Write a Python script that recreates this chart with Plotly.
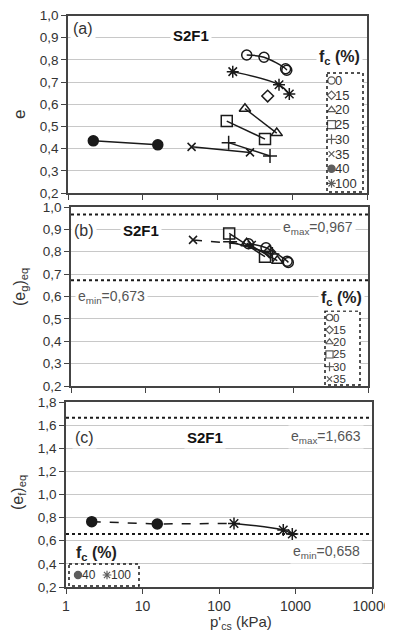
import plotly.graph_objects as go

# window is 393x639; the page body has an 8px margin, so the figure starts at (8, 8)
WIN_W, WIN_H = 393, 639
OFF = 8
FW, FH = WIN_W - OFF, WIN_H - OFF

# ---------------- data ----------------
fc_legend_a = [0, 15, 20, 25, 30, 35, 40, 100]
fc_legend_b = [0, 15, 20, 25, 30, 35]
fc_legend_c = [40, 100]

# Panel (a): e vs p'cs (kPa)
pa_fc0 = [246, 419, 815, 845]
ea_fc0 = [0.822, 0.812, 0.760, 0.753]
pa_fc15 = [469]
ea_fc15 = [0.637]
pa_fc20 = [233, 620]
ea_fc20 = [0.580, 0.470]
pa_fc25 = [133, 432]
ea_fc25 = [0.524, 0.443]
pa_fc30 = [141, 504]
ea_fc30 = [0.427, 0.367]
pa_fc35 = [45, 272]
ea_fc35 = [0.408, 0.383]
pa_fc40 = [2.18, 15.9]
ea_fc40 = [0.435, 0.417]
pa_fc100 = [160, 665, 913]
ea_fc100 = [0.747, 0.688, 0.646]

# Panel (b): (eg)eq vs p'cs
pb_fc0 = [246, 423, 815, 845]
eb_fc0 = [0.836, 0.818, 0.758, 0.752]
pb_fc15 = [469]
eb_fc15 = [0.800]
pb_fc20 = [232, 600]
eb_fc20 = [0.838, 0.760]
pb_fc25 = [135, 410]
eb_fc25 = [0.882, 0.778]
pb_fc30 = [139, 515]
eb_fc30 = [0.845, 0.790]
pb_fc35 = [44, 272]
eb_fc35 = [0.853, 0.830]
emax_b = 0.967
emin_b = 0.673

# Panel (c): (ef)eq vs p'cs
pc_fc40 = [2.17, 15.6]
ec_fc40 = [0.765, 0.745]
pc_fc100 = [157, 692, 908]
ec_fc100 = [0.750, 0.693, 0.658]
emax_c = 1.663
emin_c = 0.658

x_tickvals = [1, 10, 100, 1000, 10000]
x_ticktext = ["1", "10", "100", "1000", "10000"]

# ---------------- styles ----------------
INK = "#1a1a1a"
MK = {
    0: dict(symbol="circle-open", size=10),
    15: dict(symbol="diamond-open", size=9),
    20: dict(symbol="triangle-up-open", size=10),
    25: dict(symbol="square-open", size=11),
    30: dict(symbol="cross-thin-open", size=10),
    35: dict(symbol="x-thin-open", size=8),
    40: dict(symbol="circle", size=10),
    100: dict(symbol="asterisk-open", size=10),
}


def marker(fc, scale=1.0, width=1.5):
    m = MK[fc]
    return dict(symbol=m["symbol"], size=m["size"] * scale, color=INK,
                line=dict(color=INK, width=width))


FONT = "Liberation Sans, Arial, sans-serif"


def px_x(px):
    return (px - OFF) / FW


def px_y(py):
    return 1 - (py - OFF) / FH


fig = go.Figure()


def add_series(xs, ys, fc, ax, dash="solid", show_line=True):
    mode = "lines+markers" if (show_line and len(xs) > 1) else "markers"
    fig.add_trace(go.Scatter(
        x=xs, y=ys, mode=mode, xaxis=ax[0], yaxis=ax[1],
        marker=marker(fc), line=dict(color=INK, width=1.5, shape="spline", dash=dash),
        showlegend=False, hoverinfo="skip"))


AX_A = ("x", "y")
AX_B = ("x2", "y2")
AX_C = ("x3", "y3")

# panel (a)
add_series(pa_fc0, ea_fc0, 0, AX_A)
add_series(pa_fc15, ea_fc15, 15, AX_A)
add_series(pa_fc20, ea_fc20, 20, AX_A)
add_series(pa_fc25, ea_fc25, 25, AX_A)
add_series(pa_fc30, ea_fc30, 30, AX_A)
add_series(pa_fc35, ea_fc35, 35, AX_A)
add_series(pa_fc40, ea_fc40, 40, AX_A)
add_series(pa_fc100, ea_fc100, 100, AX_A)

# panel (b)
add_series(pb_fc35, eb_fc35, 35, AX_B, dash="dash")
add_series(pb_fc25, eb_fc25, 25, AX_B)
add_series(pb_fc30, eb_fc30, 30, AX_B)
add_series(pb_fc20, eb_fc20, 20, AX_B)
add_series(pb_fc15, eb_fc15, 15, AX_B)
add_series(pb_fc0, eb_fc0, 0, AX_B)

# panel (c)
fig.add_trace(go.Scatter(
    x=pc_fc40 + pc_fc100[:1], y=ec_fc40 + ec_fc100[:1], mode="lines",
    xaxis="x3", yaxis="y3", line=dict(color=INK, width=1.5, dash="dash"),
    showlegend=False, hoverinfo="skip"))
add_series(pc_fc40, ec_fc40, 40, AX_C, show_line=False)
add_series(pc_fc100, ec_fc100, 100, AX_C)

# ---------------- layout: axes ----------------
panels = {
    "": dict(x=(68, 367), y=(15.5, 193), yr=(0.2, 1.0), dy=0.1, labels=False),
    "2": dict(x=(71, 368), y=(207, 386), yr=(0.2, 1.0), dy=0.1, labels=False),
    "3": dict(x=(66, 372), y=(402, 587), yr=(0.2, 1.8), dy=0.2, labels=True),
}

layout = dict(
    template="none",
    width=FW, height=FH, margin=dict(l=0, r=0, t=0, b=0, pad=0, autoexpand=False),
    paper_bgcolor="white", plot_bgcolor="rgba(0,0,0,0)",
    font=dict(family=FONT, color="#333"), showlegend=False,
)

for k, p in panels.items():
    n = int(round((p["yr"][1] - p["yr"][0]) / p["dy"]))
    yv = [round(p["yr"][0] + p["dy"] * i, 1) for i in range(n + 1)]
    layout["xaxis" + k] = dict(
        type="log", range=[0, 4], domain=[px_x(p["x"][0]), px_x(p["x"][1])],
        anchor="y" + k, tickvals=x_tickvals, ticktext=x_ticktext, automargin=False,
        showticklabels=p["labels"], ticks="outside", ticklen=5, tickcolor="#444",
        showgrid=False, showline=True, linecolor="#444", linewidth=1.5, mirror=True,
        tickfont=dict(size=14, color="#333"), zeroline=False, fixedrange=True,
        ticklabeloverflow="allow")
    layout["yaxis" + k] = dict(
        range=list(p["yr"]), domain=[px_y(p["y"][1]), px_y(p["y"][0])],
        anchor="x" + k, tickvals=yv, ticktext=[f"{v:.1f}".replace(".", ",") for v in yv],
        ticks="outside", ticklen=5, tickcolor="#444", showgrid=True, automargin=False,
        gridcolor="#c8c8c8", gridwidth=1, showline=True, linecolor="#444",
        linewidth=1.5, mirror=True, tickfont=dict(size=13.5, color="#333"),
        zeroline=False, fixedrange=True, ticklabeloverflow="allow")

# overlay axis in window-pixel units for the legend boxes
layout["xaxis4"] = dict(domain=[0, 1], range=[OFF, WIN_W], visible=False, anchor="y4",
                        fixedrange=True, automargin=False)
layout["yaxis4"] = dict(domain=[0, 1], range=[WIN_H, OFF], visible=False, anchor="x4",
                        fixedrange=True, automargin=False)
fig.update_layout(**layout)

# dotted emax / emin lines
for ax, val in (("2", emax_b), ("2", emin_b), ("3", emax_c), ("3", emin_c)):
    fig.add_shape(type="line", xref=f"x{ax} domain", yref=f"y{ax}", x0=0, x1=1,
                  y0=val, y1=val, line=dict(color=INK, width=2, dash="dot"))

# ---------------- legends (drawn as dashed boxes) ----------------
def legend_box(x0, y0, x1, y1):
    fig.add_shape(type="rect", xref="x4", yref="y4", x0=x0, y0=y0, x1=x1, y1=y1,
                  fillcolor="white", line=dict(color=INK, width=1.5, dash="dot"),
                  layer="below")


def legend_items(fcs, xs, ys, size=12, gap=5, msc=0.72):
    fig.add_trace(go.Scatter(
        x=xs, y=ys, mode="markers", xaxis="x4", yaxis="y4",
        marker=dict(symbol=[MK[f]["symbol"] for f in fcs],
                    size=[MK[f]["size"] * msc for f in fcs], color=INK,
                    line=dict(color=INK, width=1.2)),
        showlegend=False, hoverinfo="skip", cliponaxis=False))
    for f, x, y in zip(fcs, xs, ys):
        fig.add_annotation(text=str(f), x=x + gap, y=y, xref="x4", yref="y4",
                           showarrow=False, xanchor="left", yanchor="middle",
                           borderpad=0, font=dict(size=size, color="#333", family=FONT))


legend_box(327, 73, 363, 192)
legend_items(fc_legend_a, [331.5] * 8, [80.5 + 14.7 * i for i in range(8)], 13, 2.5)
legend_box(325, 311, 360, 385)
legend_items(fc_legend_b, [329.5] * 6, [317.5 + 12.3 * i for i in range(6)], 11.5, 2.5, 0.65)
legend_box(69, 564, 139, 586)
legend_items(fc_legend_c, [78, 107], [575, 575], 12, 3)

# ---------------- annotations ----------------
def ann(text, px, py, size=14, bold=False, color="#333", bg=True, angle=0, xanchor="center"):
    if bold:
        text = f"<b>{text}</b>"
    fig.add_annotation(text=text, x=px_x(px), y=px_y(py), xref="paper", yref="paper",
                       showarrow=False, xanchor=xanchor, yanchor="middle",
                       font=dict(size=size, color=color, family=FONT),
                       bgcolor="white" if bg else None, borderpad=2, textangle=angle)


def fmt(v):
    return f"{v:.3f}".replace(".", ",")


# panel (a)
ann("(a)", 83, 29, 16)
ann("S2F1", 191, 35, 15, bold=True, color="#111")
ann("f<sub>c</sub> (%)", 339, 58, 16, bold=True, color="#222")
# panel (b)
ann("(b)", 84, 230, 16)
ann("S2F1", 141, 230, 15, bold=True, color="#111")
ann(f"e<sub>max</sub>={fmt(emax_b)}", 318, 228, 14, color="#555")
ann(f"e<sub>min</sub>={fmt(emin_b)}", 112, 297, 14, color="#555")
ann("f<sub>c</sub> (%)", 341, 298, 16, bold=True, color="#222")
# panel (c)
ann("(c)", 84, 438, 16)
ann("S2F1", 205, 437, 15, bold=True, color="#111")
ann(f"e<sub>max</sub>={fmt(emax_c)}", 326, 437, 14, color="#555")
ann(f"e<sub>min</sub>={fmt(emin_c)}", 326, 552, 14, color="#555")
ann("f<sub>c</sub> (%)", 96, 553, 16, bold=True, color="#222", bg=False)

# axis titles
ann("e", 19, 115, 17, bg=False, angle=-90)
ann("(e<sub>g</sub>)<sub>eq</sub>", 20, 287, 16, bg=False, angle=-90)
ann("(e<sub>f</sub>)<sub>eq</sub>", 18, 493, 16, bg=False, angle=-90)
ann("p'<sub>cs</sub> (kPa)", 241, 622, 15, bg=False)

fig.write_html("out.html")
